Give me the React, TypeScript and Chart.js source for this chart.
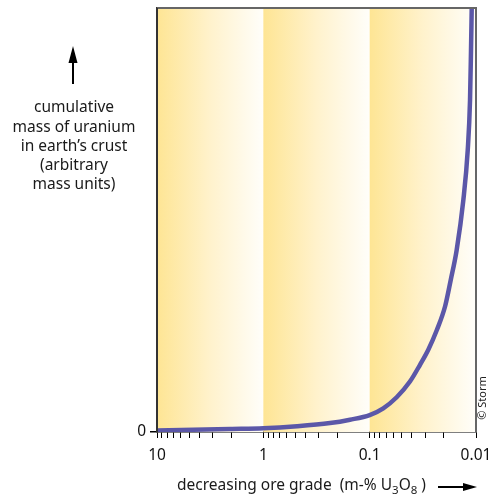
import React, { useEffect, useRef } from "react";
import { Chart, registerables } from "chart.js";

Chart.register(...registerables);

// Ore grade (m-% U3O8) along the reversed log x axis
const grades = [10, 2.06, 1, 0.482, 0.236, 0.153, 0.1, 0.0745, 0.0557, 0.0418, 0.0337, 0.0281, 0.0234, 0.01955, 0.0173, 0.0152, 0.01315, 0.01196, 0.01138, 0.01114, 0.01097];
// Cumulative mass of uranium (arbitrary units)
const cumulativeMass = [0.35, 0.71, 0.87, 1.35, 2.1, 2.9, 4.0, 5.6, 8.2, 11.9, 15.8, 19.4, 24.0, 29.6, 35.8, 42.9, 54.7, 66.5, 78.3, 90.1, 100];

// Tick values on the x axis (majors labelled, minors unlabelled)
const decadeStarts = [10, 1, 0.1];
const minorMultipliers = [9, 8, 7, 6, 5, 4, 3, 2];
const xTickLabels = ["10", "1", "0.1", "0.01"];
const yTickLabels = ["0"];

const yTitleLines = ["cumulative", "mass of uranium", "in earth\u2019s crust", "(arbitrary", "mass units)"];

const FONT = "'Noto Sans', 'Open Sans', sans-serif";

function buildXTicks(): number[] {
  const out: number[] = [];
  decadeStarts.forEach((d) => {
    out.push(d);
    minorMultipliers.forEach((m) => out.push(+(m * d / 10).toPrecision(6)));
  });
  out.push(0.01);
  return out;
}

function isPow10(v: number) {
  const l = Math.log10(v);
  return Math.abs(l - Math.round(l)) < 1e-9;
}

const decorPlugin = {
  id: "decor",
  beforeDatasetsDraw(chart: any) {
    const { ctx, chartArea } = chart;
    const xs = chart.scales.x;
    const bounds = [10, 1, 0.1, 0.01];
    ctx.save();
    for (let i = 0; i < bounds.length - 1; i++) {
      const x1 = xs.getPixelForValue(bounds[i]);
      const x2 = xs.getPixelForValue(bounds[i + 1]);
      const g = ctx.createLinearGradient(x1, 0, x2, 0);
      g.addColorStop(0, "#FEE594");
      g.addColorStop(0.5, "#FFF2CC");
      g.addColorStop(1, "#FFFEFA");
      ctx.fillStyle = g;
      ctx.fillRect(x1, chartArea.top, x2 - x1, chartArea.bottom - chartArea.top);
    }
    ctx.restore();
  },
  afterDraw(chart: any) {
    const { ctx, chartArea } = chart;
    ctx.save();
    // top and right frame
    ctx.strokeStyle = "#666";
    ctx.lineWidth = 2;
    ctx.beginPath();
    ctx.moveTo(chartArea.left, chartArea.top);
    ctx.lineTo(chartArea.right, chartArea.top);
    ctx.lineTo(chartArea.right, chartArea.bottom);
    ctx.stroke();
    ctx.strokeStyle = "#333";
    ctx.beginPath();
    ctx.moveTo(chartArea.left, chartArea.top);
    ctx.lineTo(chartArea.left, chartArea.bottom);
    ctx.stroke();

    // y title
    ctx.fillStyle = "#1a1a1a";
    ctx.font = `15.5px ${FONT}`;
    ctx.textAlign = "center";
    ctx.textBaseline = "middle";
    yTitleLines.forEach((t, i) => ctx.fillText(t, 74, 108 + i * 19.2));

    // up arrow
    ctx.strokeStyle = "#000";
    ctx.fillStyle = "#000";
    ctx.lineWidth = 2;
    ctx.beginPath();
    ctx.moveTo(73, 84);
    ctx.lineTo(73, 60);
    ctx.stroke();
    ctx.beginPath();
    ctx.moveTo(73, 46);
    ctx.lineTo(68.5, 63);
    ctx.lineTo(77.5, 63);
    ctx.closePath();
    ctx.fill();

    // x title with subscripts
    ctx.fillStyle = "#1a1a1a";
    ctx.textAlign = "left";
    ctx.textBaseline = "alphabetic";
    let x = 177;
    const base = 490;
    const parts: [string, boolean][] = [["decreasing ore grade  (m-% U", false], ["3", true], ["O", false], ["8", true], [" )", false]];
    parts.forEach(([t, sub]) => {
      ctx.font = sub ? `11.5px ${FONT}` : `15.5px ${FONT}`;
      ctx.fillText(t, x, sub ? base + 4 : base);
      x += ctx.measureText(t).width;
    });

    // right arrow
    ctx.fillStyle = "#000";
    ctx.beginPath();
    ctx.moveTo(438, 487);
    ctx.lineTo(466, 487);
    ctx.stroke();
    ctx.beginPath();
    ctx.moveTo(477, 487);
    ctx.lineTo(463, 483);
    ctx.lineTo(463, 491);
    ctx.closePath();
    ctx.fill();

    // copyright
    ctx.translate(482.5, 398);
    ctx.rotate(-Math.PI / 2);
    ctx.font = `11px ${FONT}`;
    ctx.fillStyle = "#222";
    ctx.textAlign = "center";
    ctx.textBaseline = "middle";
    ctx.fillText("\u00A9 Storm", 0, 0);
    ctx.restore();
  },
};

export default function App() {
  const ref = useRef<HTMLCanvasElement>(null);
  useEffect(() => {
    if (!ref.current) return;
    const xTicks = buildXTicks();
    const chart = new Chart(ref.current, {
      type: "line",
      data: {
        datasets: [
          {
            data: grades.map((g, i) => ({ x: g, y: cumulativeMass[i] })),
            borderColor: "#5B57A8",
            borderWidth: 4.5,
            pointRadius: 0,
            cubicInterpolationMode: "monotone",
            fill: false,
          },
        ],
      },
      options: {
        animation: false,
        responsive: true,
        maintainAspectRatio: false,
        layout: { padding: { top: 8, right: 12, left: 0, bottom: 0 } },
        plugins: { legend: { display: false }, tooltip: { enabled: false } },
        scales: {
          x: {
            type: "logarithmic",
            reverse: true,
            min: 0.01,
            max: 10,
            afterBuildTicks: (axis: any) => {
              axis.ticks = xTicks.map((v) => ({ value: v, major: isPow10(v) }));
            },
            afterFit: (scale: any) => {
              scale.height = 68;
              scale.paddingLeft = 0;
              scale.paddingRight = 0;
            },
            ticks: {
              autoSkip: false,
              maxRotation: 0,
              padding: 8,
              color: "#111",
              font: { family: FONT, size: 15.5 },
              callback: (v: any) => {
                const n = Number(v);
                if (!isPow10(n)) return "";
                const idx = Math.round(1 - Math.log10(n));
                return xTickLabels[idx];
              },
            },
            grid: { drawOnChartArea: false, color: "#000", tickLength: 6, lineWidth: 1 },
            border: { display: true, color: "#000", width: 1.5 },
          },
          y: {
            type: "linear",
            min: 0,
            max: 100,
            afterBuildTicks: (axis: any) => {
              axis.ticks = [{ value: 0 }];
            },
            afterFit: (scale: any) => {
              scale.width = 157;
              scale.paddingTop = 0;
              scale.paddingBottom = 0;
            },
            ticks: {
              padding: 4,
              color: "#111",
              font: { family: FONT, size: 15.5 },
              callback: () => yTickLabels[0],
            },
            grid: { drawOnChartArea: false, color: "#000", tickLength: 7, lineWidth: 1.5 },
            border: { display: true, color: "#333", width: 1.5 },
          },
        },
      },
      plugins: [decorPlugin],
    } as any);
    return () => chart.destroy();
  }, []);
  return (
    <div style={{ position: "absolute", left: 0, top: 0, width: 488, height: 500 }}>
      <canvas ref={ref} />
    </div>
  );
}
